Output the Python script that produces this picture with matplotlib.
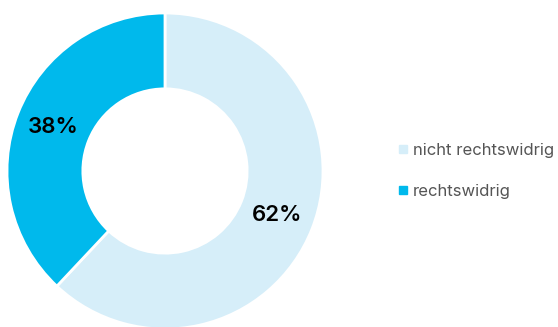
import matplotlib
matplotlib.use("Agg")
import matplotlib.pyplot as plt
from matplotlib.lines import Line2D

categories = ["nicht rechtswidrig", "rechtswidrig"]
values = [62, 38]
colors = ["#d6eef9", "#00b9ec"]

W, H = 558, 327
fig = plt.figure(figsize=(W/100, H/100), dpi=100)
cx, cy, R = 165, 171, 158
ax = fig.add_axes([(cx-R)/W, (H-cy-R)/H, 2*R/W, 2*R/H])
wedges, texts, autotexts = ax.pie(
    values, colors=colors, startangle=90, counterclock=False,
    radius=1, autopct=lambda p: f"{p:.0f}%", pctdistance=0.76,
    wedgeprops=dict(width=0.48, edgecolor="white", linewidth=2),
    textprops=dict(fontsize=16, family=["Inter", "DejaVu Sans"], fontweight="semibold", color="black"))
ax.set_xlim(-1, 1); ax.set_ylim(-1, 1)
ax.set_aspect("equal")
ax.axis("off")

handles = [Line2D([], [], marker="s", linestyle="none", markersize=5.5,
                  markerfacecolor=c, markeredgecolor=c) for c in colors]
leg = fig.legend(handles, categories, loc="center left",
                 bbox_to_anchor=(384/W, 1 - 171/H), frameon=False,
                 handlelength=0.5, handletextpad=0.35, labelspacing=1.55,
                 prop=dict(family=["Inter", "DejaVu Sans"], size=12))
for t in leg.get_texts():
    t.set_color("#555555")

fig.savefig("out.png", dpi=100)
